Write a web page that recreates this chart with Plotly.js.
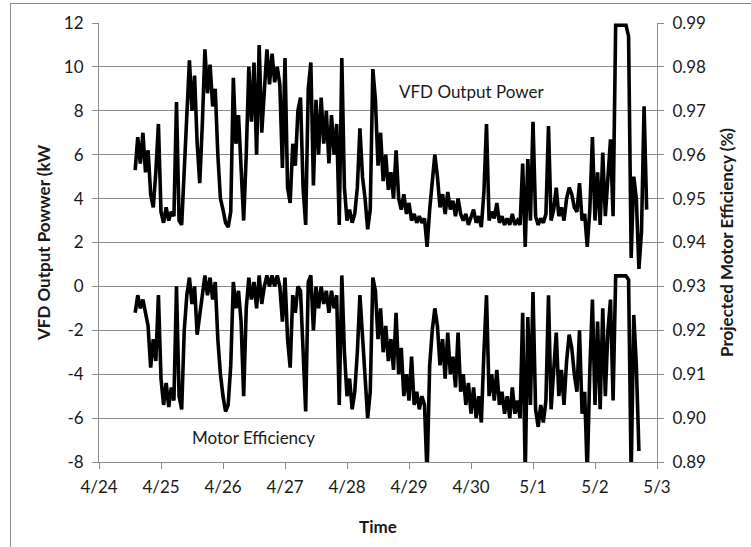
<!DOCTYPE html>
<html>
<head>
<meta charset="utf-8">
<script src="https://cdn.plot.ly/plotly-3.0.1.min.js"></script>
<style>
  html, body { margin: 0; padding: 0; background: #fff; overflow: hidden; }
  #frame { position: absolute; left: 10px; top: 3px; width: 800px; height: 600px;
           border-left: 1px solid #8c8c8c; border-top: 1px solid #8c8c8c; }
  #chart { position: absolute; left: 0; top: 0; width: 751px; height: 547px; }
</style>
</head>
<body>
<div id="frame"></div>
<div id="chart"></div>
<script>
// Hours elapsed since 4/24 00:00
const hours = [14,15,16,17,18,19,20,21,22,23,24,25,26,27,28,29,30,31,32,33,34,35,36,37,38,39,40,41,42,43,44,45,46,47,48,49,50,51,52,53,54,55,56,57,58,59,60,61,62,63,64,65,66,67,68,69,70,71,72,73,74,75,76,77,78,79,80,81,82,83,84,85,86,87,88,89,90,91,92,93,94,95,96,97,98,99,100,101,102,103,104,105,106,107,108,109,110,111,112,113,114,115,116,117,118,119,120,121,122,123,124,125,126,127,128,129,130,131,132,133,134,135,136,137,138,139,140,141,142,143,144,145,146,147,148,149,150,151,152,153,154,155,156,157,158,159,160,161,162,163,164,165,166,167,168,169,170,171,172,173,174,175,176,177,178,179,180,181,182,183,184,185,186,187,188,189,190,191,192,193,194,195,196,197,198,199,200,201,202,203,204,205,206,207,208,209,210,211,212];

// VFD Output Power (kW), left axis
const vfdPower = [5.3,6.8,5.6,7.0,5.2,6.2,4.2,3.6,5.2,7.4,3.4,2.9,3.6,3.0,3.4,3.2,8.4,3.0,2.8,5.5,7.8,10.3,8.0,9.6,6.5,4.7,7.4,10.8,8.8,10.1,8.2,9.0,6.0,4.0,3.5,2.9,2.7,3.4,9.5,6.5,7.8,5.6,3.0,6.0,10.0,7.5,10.2,6.0,11.0,7.0,8.8,10.8,9.2,10.6,9.3,10.0,9.2,5.4,10.4,4.5,3.8,6.5,5.5,8.0,8.6,4.5,2.8,9.0,10.2,4.6,8.5,6.0,8.6,6.5,8.0,5.6,7.8,6.0,7.4,2.8,10.4,4.5,3.0,3.5,2.9,3.3,4.5,7.2,5.0,4.0,2.6,3.5,9.9,8.5,5.5,7.0,4.8,6.0,4.4,5.2,4.0,6.2,4.0,3.5,4.2,3.3,3.8,3.0,3.3,2.9,3.2,2.9,3.1,1.8,3.5,4.8,6.0,5.0,3.6,4.2,3.3,4.3,3.5,3.9,3.2,4.0,3.3,3.0,3.3,2.8,3.2,3.5,2.9,3.2,2.7,4.3,7.4,3.0,3.4,3.1,3.8,2.9,3.2,2.8,3.1,2.8,3.3,2.8,3.0,2.8,5.6,1.8,5.8,3.0,7.5,3.2,2.8,3.1,2.9,3.3,7.3,3.0,3.5,4.5,3.2,3.6,3.0,4.0,4.5,4.2,3.6,3.4,4.7,3.0,3.3,1.8,3.5,6.8,3.0,5.2,2.8,6.1,3.2,5.0,6.7,3.2,11.9,11.9,11.9,11.9,11.9,11.4,1.3,5.0,4.0,0.8,2.5,8.2,3.5];

// Projected Motor Efficiency, right axis
const motorEff = [0.924,0.928,0.925,0.927,0.924,0.921,0.9115,0.918,0.913,0.928,0.909,0.903,0.908,0.9025,0.907,0.904,0.930,0.905,0.902,0.920,0.928,0.932,0.926,0.930,0.919,0.924,0.929,0.9325,0.928,0.932,0.927,0.931,0.918,0.910,0.905,0.9015,0.903,0.912,0.931,0.925,0.929,0.922,0.905,0.925,0.932,0.927,0.931,0.925,0.9325,0.926,0.930,0.9325,0.930,0.9325,0.930,0.9325,0.930,0.922,0.932,0.918,0.9115,0.928,0.924,0.930,0.929,0.915,0.9015,0.931,0.9325,0.920,0.930,0.925,0.930,0.926,0.929,0.924,0.929,0.925,0.928,0.903,0.9325,0.915,0.905,0.909,0.902,0.906,0.915,0.928,0.918,0.910,0.900,0.906,0.932,0.929,0.918,0.925,0.915,0.921,0.913,0.918,0.911,0.924,0.910,0.916,0.905,0.910,0.904,0.914,0.903,0.906,0.902,0.905,0.903,0.887,0.912,0.920,0.925,0.921,0.912,0.918,0.909,0.9195,0.910,0.914,0.907,0.9195,0.906,0.910,0.903,0.908,0.901,0.907,0.900,0.905,0.899,0.915,0.928,0.905,0.910,0.904,0.911,0.903,0.906,0.901,0.905,0.900,0.907,0.901,0.904,0.900,0.924,0.887,0.923,0.903,0.9287,0.902,0.898,0.903,0.899,0.904,0.928,0.902,0.910,0.9195,0.905,0.911,0.903,0.913,0.919,0.916,0.910,0.906,0.920,0.901,0.906,0.887,0.911,0.927,0.903,0.922,0.902,0.925,0.905,0.920,0.927,0.904,0.9324,0.9324,0.9324,0.9324,0.9324,0.9315,0.887,0.9235,0.912,0.8925,null,null,null];

const dayTicks = ['4/24','4/25','4/26','4/27','4/28','4/29','4/30','5/1','5/2','5/3'];
const leftTicks = [-8,-6,-4,-2,0,2,4,6,8,10,12];
const rightTicks = [0.89,0.90,0.91,0.92,0.93,0.94,0.95,0.96,0.97,0.98,0.99];

const t0 = Date.UTC(2013, 3, 24);
const xTimes = hours.map(h => new Date(t0 + h * 3600000).toISOString());
const dayVals = dayTicks.map((_, i) => new Date(t0 + i * 86400000).toISOString());

const FONT = 'Lato, "Open Sans", sans-serif';
const GRID = '#8c8c8c';
const TXT = '#1a1a1a';

const traces = [
  { x: xTimes, y: vfdPower, type: 'scatter', mode: 'lines', name: 'VFD Output Power',
    line: { color: '#000', width: 3.6 }, yaxis: 'y', hoverinfo: 'skip' },
  { x: xTimes, y: motorEff, type: 'scatter', mode: 'lines', name: 'Motor Efficiency',
    line: { color: '#000', width: 3.6 }, yaxis: 'y2', connectgaps: false, hoverinfo: 'skip' }
];

const layout = {
  width: 751, height: 547,
  margin: { l: 99, r: 94, t: 23, b: 85 },
  paper_bgcolor: 'rgba(0,0,0,0)', plot_bgcolor: 'rgba(0,0,0,0)',
  showlegend: false,
  font: { family: FONT, size: 17, color: TXT },
  xaxis: {
    type: 'date', range: [dayVals[0], dayVals[dayVals.length - 1]],
    tickmode: 'array', tickvals: dayVals, ticktext: dayTicks,
    showgrid: false, zeroline: false,
    showline: true, linecolor: GRID, linewidth: 1,
    ticks: 'outside', ticklen: 6, tickcolor: GRID, ticklabelstandoff: 4,
    tickfont: { family: FONT, size: 17, color: TXT },
    title: { text: 'Time', font: { family: FONT, size: 17, color: TXT, weight: 'bold' }, standoff: 24 },
    automargin: false
  },
  yaxis: {
    range: [-8, 12], tickmode: 'array', tickvals: leftTicks, ticktext: leftTicks.map(String),
    showgrid: true, gridcolor: GRID, gridwidth: 1, zeroline: false,
    showline: true, linecolor: GRID, linewidth: 1,
    ticks: 'outside', ticklen: 6, tickcolor: GRID, ticklabelstandoff: 5,
    tickfont: { family: FONT, size: 17, color: TXT },
    title: { text: 'VFD Output Powwer (kW', font: { family: FONT, size: 17, color: TXT, weight: 'bold' }, standoff: 8 },
    automargin: false
  },
  yaxis2: {
    overlaying: 'y', side: 'right', anchor: 'x',
    range: [0.89, 0.99], tickmode: 'array', tickvals: rightTicks, ticktext: rightTicks.map(v => v.toFixed(2)),
    showgrid: false, zeroline: false,
    showline: true, linecolor: GRID, linewidth: 1,
    ticks: 'outside', ticklen: 6, tickcolor: GRID, ticklabelstandoff: 5,
    tickfont: { family: FONT, size: 17, color: TXT },
    title: { text: 'Projected Motor Efficiency (%)', font: { family: FONT, size: 17, color: TXT, weight: 'bold' }, standoff: 15 },
    automargin: false
  },
  annotations: [
    { text: 'VFD Output Power', xref: 'paper', yref: 'paper', x: 0.667, y: 0.843,
      xanchor: 'center', yanchor: 'middle',
      showarrow: false, font: { family: FONT, size: 17, color: TXT } },
    { text: 'Motor Efficiency', xref: 'paper', yref: 'paper', x: 0.276, y: 0.0547,
      xanchor: 'center', yanchor: 'middle',
      showarrow: false, font: { family: FONT, size: 17, color: TXT } }
  ]
};

Plotly.newPlot('chart', traces, layout, { staticPlot: true, displayModeBar: false });
</script>
</body>
</html>
